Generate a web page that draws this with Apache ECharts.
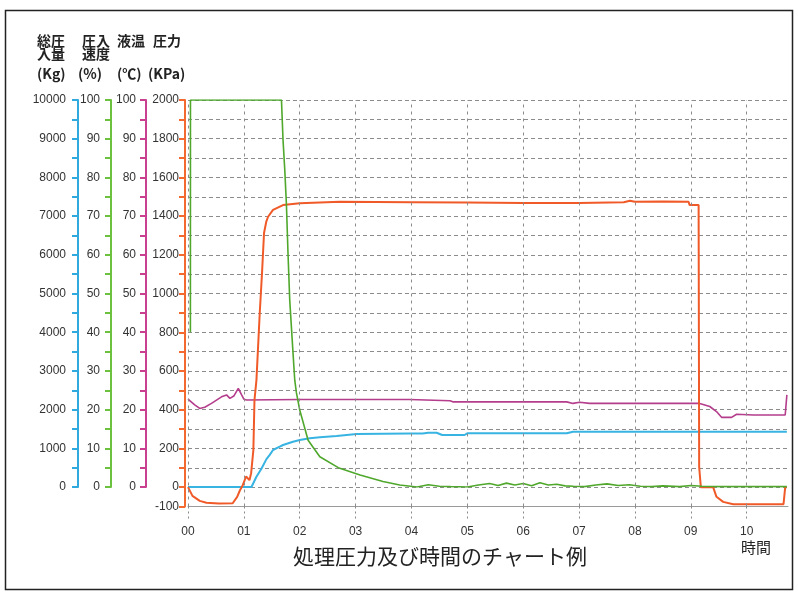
<!DOCTYPE html>
<html>
<head>
<meta charset="utf-8">
<script src="https://cdn.jsdelivr.net/npm/echarts@6/dist/echarts.min.js"></script>
<style>html,body{margin:0;padding:0;background:#fff;}#c{width:798px;height:599px;}</style>
</head>
<body>
<div id="c"></div>
<script>
// ---- data (hours on x) ----
var hourTicks = [0,1,2,3,4,5,6,7,8,9,10];

// 圧力 (KPa)
var pressureTime = [0.00,0.08,0.21,0.33,0.55,0.80,0.88,0.93,0.98,1.04,1.10,1.13,1.17,1.19,1.225,1.284,1.325,1.361,1.40,1.433,1.522,1.701,2.0,2.72,4.0,5.0,6.0,7.0,7.8,7.91,8.0,8.5,8.96,8.98,9.14,9.15,9.18,9.40,9.46,9.58,9.76,10.66,10.69,10.72];
var pressureKPa  = [0,-45,-71,-81,-84,-83,-50,-16,10,55,36,72,191,450,553,898,1106,1313,1370,1397,1432,1457,1466,1474,1472,1470,1468,1468,1472,1480,1474,1476,1474,1457,1457,103,0,0,-50,-76,-88,-88,0,0];

// 圧入速度 (%)
var speedTime = [0.043,0.044,1.673,1.701,1.732,1.762,1.791,1.821,1.880,1.911,1.941,2.0,2.15,2.36,2.69,3.08,3.49,3.79,4.1,4.3,4.5,4.7,5.0,5.2,5.4,5.55,5.7,5.85,6.0,6.15,6.3,6.45,6.6,6.75,6.9,7.1,7.3,7.5,7.7,7.9,8.1,8.3,8.5,8.8,9.0,9.2,9.5,10.0,10.72];
var speedPct  = [40,100,100,89.7,82,72.9,60,48.3,34.6,27.6,24.3,19.9,12.1,7.8,5.0,3.1,1.4,0.5,0,0.6,0.2,0.1,0,0.5,0.9,0.4,1.0,0.5,0.9,0.3,1.1,0.5,0.7,0.3,0.2,0.1,0.5,0.8,0.4,0.6,0.2,0.1,0.3,0.1,0.4,0.2,0.1,0.1,0.1];

// 総圧入量 (Kg)
var volumeTime = [0,1.136,1.166,1.225,1.314,1.404,1.463,1.522,1.642,1.701,1.880,2.0,2.18,2.36,2.66,3.02,3.49,3.97,4.2,4.3,4.45,4.55,4.95,5.0,6.0,6.78,6.89,10.72];
var volumeKg   = [0,0,0,266,470,720,830,956,1041,1085,1171,1214,1258,1284,1318,1370,1375,1382,1380,1403,1403,1344,1344,1388,1390,1388,1429,1429];

// 液温 (℃)
var tempTime = [0,0.12,0.21,0.30,0.42,0.60,0.69,0.75,0.82,0.90,0.96,1.00,1.05,2.0,3.97,4.0,4.69,4.74,6.78,6.89,7.01,7.19,9.16,9.34,9.46,9.55,9.73,9.82,10.12,10.41,10.69,10.72];
var tempC    = [22.7,21.2,20.3,20.6,21.6,23.3,23.8,22.9,23.5,25.5,23.8,22.7,22.5,22.6,22.6,22.3,22.3,22.0,22.0,21.6,21.9,21.6,21.6,20.8,19.5,18.0,18.0,18.8,18.6,18.6,18.6,23.8];

function zip(a,b){return a.map(function(v,i){return [v,b[i]];});}

var C_BLUE='#2fa9de', C_GREEN_AX='#6cc23e', C_MAG='#c8408f', C_ORANGE='#f26a30';
var L_ORANGE='#f05a28', L_GREEN='#4fa82c', L_BLUE='#38b4e2', L_MAG='#b43d8c';
var NUMFONT = 'Liberation Sans, Arial, sans-serif';
var JPFONT = '"Noto Sans CJK JP", sans-serif';

function yAxisDef(grid, offset, min, max, interval, color, margin, fmt){
  return {
    gridIndex: grid, type:'value', position:'left', offset: offset,
    min:min, max:max, interval:interval,
    axisLine:{show:true, onZero:false, lineStyle:{color:color, width:2}},
    axisTick:{show:true, length:6, lineStyle:{color:color, width:2}},
    axisLabel:{margin:margin, color:'#333', fontSize:12, fontFamily:NUMFONT, formatter:fmt},
    splitLine:{show:false}
  };
}

var chart = echarts.init(document.getElementById('c'), null, {renderer:'canvas'});
var opt = {
  animation:false,
  backgroundColor:'#fff',
  grid:[
    {left:188, right:10, top:100, bottom:92.5},
    {left:188, right:10, top:100, bottom:112}
  ],
  xAxis:[
    {gridIndex:0, type:'value', min:0, max:10.74,
     axisLine:{show:true, onZero:false, lineStyle:{color:'#9a9a9a', width:1}},
     axisTick:{show:true, length:12, customValues:hourTicks, lineStyle:{color:'#888', type:[2,3]}},
     axisLabel:{margin:19, customValues:hourTicks, color:'#333', fontSize:12, fontFamily:NUMFONT,
       formatter:function(v){ return (Math.abs(v-Math.round(v))<1e-6) ? (v<10?'0':'')+Math.round(v) : ''; }},
     splitLine:{show:false}},
    {gridIndex:1, type:'value', min:0, max:10.74, show:false}
  ],
  yAxis:[
    (function(){
      var a = yAxisDef(0, 3, -100, 2000, 100, C_ORANGE, 6, function(v){ return (v===-100 || v%200===0) ? String(v) : ''; });
      a.splitLine = {show:true, lineStyle:{color:'#8c8c8c', type:[4,3], width:1}};
      return a;
    })(),
    yAxisDef(1, 110, 0, 10000, 500, C_BLUE, 12, function(v){ return v%1000===0 ? String(v) : ''; }),
    yAxisDef(1, 77, 0, 100, 5, C_GREEN_AX, 11, function(v){ return v%10===0 ? String(v) : ''; }),
    yAxisDef(1, 42, 0, 100, 5, C_MAG, 10, function(v){ return v%10===0 ? String(v) : ''; })
  ],
  series:[
    {type:'line', name:'grid', xAxisIndex:0, yAxisIndex:0, data:[], z:1, silent:true,
     markLine:{silent:true, symbol:'none', label:{show:false},
       lineStyle:{color:'#8c8c8c', type:[3,4], width:1},
       data: hourTicks.map(function(h){ return {xAxis:h}; })}},
    {type:'line', name:'総圧入量', xAxisIndex:1, yAxisIndex:1, data:zip(volumeTime, volumeKg), showSymbol:false, symbol:'none', z:3,
     lineStyle:{color:L_BLUE, width:2}},
    {type:'line', name:'液温', xAxisIndex:1, yAxisIndex:3, data:zip(tempTime, tempC), showSymbol:false, symbol:'none', z:3,
     lineStyle:{color:L_MAG, width:1.6}},
    {type:'line', name:'圧力', xAxisIndex:0, yAxisIndex:0, data:zip(pressureTime, pressureKPa), showSymbol:false, symbol:'none', z:3,
     lineStyle:{color:L_ORANGE, width:2}},
    {type:'line', name:'圧入速度', xAxisIndex:1, yAxisIndex:2, data:zip(speedTime, speedPct), showSymbol:false, symbol:'none', z:4,
     lineStyle:{color:L_GREEN, width:1.6}}
  ],
  graphic:[
    {type:'rect', shape:{x:5.5, y:10.5, width:787, height:579}, style:{fill:null, stroke:'#222', lineWidth:1.5}, z:100},
    {type:'text', x:37, y:34, style:{text:'総圧\n入量', fontFamily:JPFONT, fontWeight:'bold', fontSize:14, lineHeight:13, fill:'#222'}},
    {type:'text', x:82, y:34, style:{text:'圧入\n速度', fontFamily:JPFONT, fontWeight:'bold', fontSize:14, lineHeight:13, fill:'#222'}},
    {type:'text', x:117, y:34, style:{text:'液温', fontFamily:JPFONT, fontWeight:'bold', fontSize:14, lineHeight:13, fill:'#222'}},
    {type:'text', x:153, y:34, style:{text:'圧力', fontFamily:JPFONT, fontWeight:'bold', fontSize:14, lineHeight:13, fill:'#222'}},
    {type:'text', x:37, y:67, style:{text:'(Kg)', fontFamily:JPFONT, fontWeight:'bold', fontSize:14, fill:'#222'}},
    {type:'text', x:78, y:67, style:{text:'(%)', fontFamily:JPFONT, fontWeight:'bold', fontSize:14, fill:'#222'}},
    {type:'text', x:117, y:67, style:{text:'(℃)', fontFamily:JPFONT, fontWeight:'bold', fontSize:14, fill:'#222'}},
    {type:'text', x:148, y:67, style:{text:'(KPa)', fontFamily:JPFONT, fontWeight:'bold', fontSize:14, fill:'#222'}},
    {type:'text', x:741, y:540, style:{text:'時間', fontFamily:JPFONT, fontSize:15, fill:'#222'}},
    {type:'text', x:440, y:556, style:{text:'処理圧力及び時間のチャート例', fontFamily:JPFONT, fontSize:21, fill:'#222', align:'center', verticalAlign:'middle'}}
  ]
};
chart.setOption(opt);
</script>
</body>
</html>
